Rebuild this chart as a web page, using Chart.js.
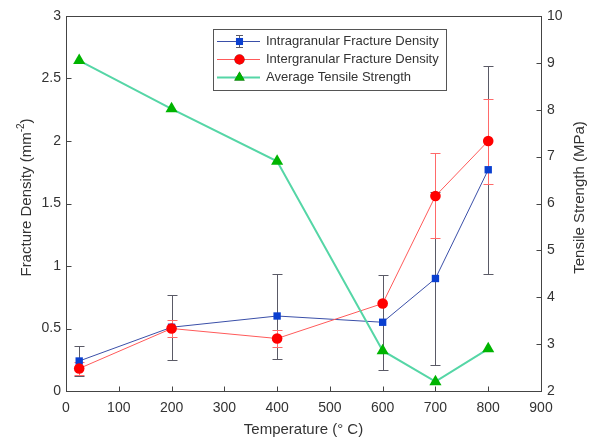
<!DOCTYPE html>
<html lang="en">
  <head>
    <meta charset="utf-8" />
    <title>Fracture density vs temperature</title>
    <style>
      * { margin: 0; padding: 0; }
      body { background: #fff; }
      .chartBox { width: 590px; height: 439px; }
    </style>
  </head>
  <body>
    <div class="chartBox"><canvas id="myChart" width="590" height="439"></canvas></div>

    <script src="https://cdn.jsdelivr.net/npm/chart.js"></script>
    <script>
      const temps = [25, 200, 400, 600, 700, 800];
      const intraDensity = [0.24, 0.51, 0.6, 0.55, 0.9, 1.77];
      const intraErr = [0.12, 0.26, 0.34, 0.38, 0.69, 0.83];
      const interDensity = [0.18, 0.5, 0.42, 0.7, 1.56, 2.0];
      const interErr = [0.05, 0.07, 0.07, 0.0, 0.34, 0.34];
      const tensile = [9.05, 8.02, 6.9, 2.86, 2.2, 2.9];
      const xTicks = [0, 100, 200, 300, 400, 500, 600, 700, 800, 900];

      const FONT = "'Liberation Sans', Arial, sans-serif";
      const TXT = "#333";

      const toPoints = (vals) => vals.map((v, i) => ({ x: temps[i], y: v }));

      // error bars + box + inward ticks + axis titles + legend
      const matlabLook = {
        id: "matlabLook",
        beforeDatasetsDraw(chart) {
          const { ctx, scales } = chart;
          const x = scales.x, y = scales.y;
          const bars = [
            { vals: intraDensity, err: intraErr, color: "#5a5a66" },
            { vals: interDensity, err: interErr, color: "#ff6a6a" },
          ];
          ctx.save();
          ctx.lineWidth = 1;
          bars.forEach((b) => {
            ctx.strokeStyle = b.color;
            b.vals.forEach((v, i) => {
              if (!b.err[i]) return;
              const px = Math.round(x.getPixelForValue(temps[i])) + 0.5;
              const top = Math.round(y.getPixelForValue(v + b.err[i])) + 0.5;
              const bot = Math.round(y.getPixelForValue(v - b.err[i])) + 0.5;
              ctx.beginPath();
              ctx.moveTo(px, top); ctx.lineTo(px, bot);
              ctx.moveTo(px - 5, top); ctx.lineTo(px + 5, top);
              ctx.moveTo(px - 5, bot); ctx.lineTo(px + 5, bot);
              ctx.stroke();
            });
          });
          ctx.restore();
        },
        afterDraw(chart) {
          const { ctx, chartArea: a, scales } = chart;
          ctx.save();
          ctx.strokeStyle = "#444";
          ctx.lineWidth = 1;
          const L = Math.round(a.left) + 0.5, R = Math.round(a.right) + 0.5;
          const T = Math.round(a.top) + 0.5, B = Math.round(a.bottom) + 0.5;
          ctx.strokeRect(L, T, R - L, B - T);
          ctx.beginPath();
          scales.x.ticks.forEach((t) => {
            const px = Math.round(scales.x.getPixelForValue(t.value)) + 0.5;
            ctx.moveTo(px, B); ctx.lineTo(px, B - 5);
          });
          scales.y.ticks.forEach((t) => {
            const py = Math.round(scales.y.getPixelForValue(t.value)) + 0.5;
            ctx.moveTo(L, py); ctx.lineTo(L + 5, py);
          });
          scales.y1.ticks.forEach((t) => {
            const py = Math.round(scales.y1.getPixelForValue(t.value)) + 0.5;
            ctx.moveTo(R, py); ctx.lineTo(R - 5, py);
          });
          ctx.stroke();

          // axis titles, both reading bottom to top
          const midY = (a.top + a.bottom) / 2 - 6;
          ctx.fillStyle = TXT;
          ctx.textBaseline = "middle";
          ctx.textAlign = "center";
          ctx.font = "15px " + FONT;
          ctx.translate(580, midY);
          ctx.rotate(-Math.PI / 2);
          ctx.fillText("Tensile Strength (MPa)", 0, 0);
          ctx.setTransform(1, 0, 0, 1, 0, 0);

          const partA = "Fracture Density (mm", sup = "-2", partB = ")";
          ctx.font = "15px " + FONT;
          const wA = ctx.measureText(partA).width, wB = ctx.measureText(partB).width;
          ctx.font = "10px " + FONT;
          const wS = ctx.measureText(sup).width;
          const total = wA + wS + wB;
          ctx.translate(27, midY);
          ctx.rotate(-Math.PI / 2);
          ctx.textAlign = "left";
          ctx.font = "15px " + FONT;
          ctx.fillText(partA, -total / 2, 0);
          ctx.font = "10px " + FONT;
          ctx.fillText(sup, -total / 2 + wA, -6);
          ctx.font = "15px " + FONT;
          ctx.fillText(partB, -total / 2 + wA + wS, 0);
          ctx.setTransform(1, 0, 0, 1, 0, 0);

          // legend
          const bx = 213.5, by = 29.5, bw = 233, bh = 61;
          ctx.fillStyle = "#fff";
          ctx.fillRect(bx, by, bw, bh);
          ctx.strokeStyle = "#555";
          ctx.lineWidth = 1;
          ctx.strokeRect(bx, by, bw, bh);
          const ds = chart.data.datasets;
          const rows = [41, 59, 77];
          const legendRadius = [5, 5, 6];
          ctx.font = "13px " + FONT;
          ctx.textAlign = "left";
          ds.forEach((d, i) => {
            const ry = rows[i] + 0.5;
            ctx.strokeStyle = d.borderColor;
            ctx.lineWidth = d.borderWidth;
            ctx.beginPath();
            ctx.moveTo(217, ry); ctx.lineTo(260, ry);
            ctx.stroke();
            if (i === 0) {
              ctx.strokeStyle = "#5a5a66";
              ctx.lineWidth = 1;
              ctx.beginPath();
              ctx.moveTo(239.5, ry - 6); ctx.lineTo(239.5, ry + 6);
              ctx.moveTo(236, ry - 6); ctx.lineTo(243, ry - 6);
              ctx.moveTo(236, ry + 6); ctx.lineTo(243, ry + 6);
              ctx.stroke();
            }
            Chart.helpers.drawPoint(ctx, {
              pointStyle: d.pointStyle,
              radius: legendRadius[i],
              borderWidth: 0,
            }, 239.5, ry);
            ctx.fillStyle = d.pointBackgroundColor;
            ctx.fill();
            ctx.fillStyle = TXT;
            ctx.fillText(d.label, 266, ry);
          });
          ctx.restore();
        },
      };

      const data = {
        datasets: [
          {
            label: "Intragranular Fracture Density",
            data: toPoints(intraDensity),
            yAxisID: "y",
            borderColor: "#3a4fa8",
            borderWidth: 1,
            pointStyle: "rect",
            pointRadius: 5.2,
            pointBackgroundColor: "#0a3fd0",
            pointBorderWidth: 0,
            order: 3,
          },
          {
            label: "Intergranular Fracture Density",
            data: toPoints(interDensity),
            yAxisID: "y",
            borderColor: "#ff5a5a",
            borderWidth: 1,
            pointStyle: "circle",
            pointRadius: 5.3,
            pointBackgroundColor: "#ff0000",
            pointBorderWidth: 0,
            order: 2,
          },
          {
            label: "Average Tensile Strength",
            data: toPoints(tensile),
            yAxisID: "y1",
            borderColor: "#55d6a6",
            borderWidth: 2,
            pointStyle: "triangle",
            pointRadius: 7,
            pointBackgroundColor: "#00b400",
            pointBorderWidth: 0,
            order: 1,
          },
        ],
      };

      const tickFont = { family: FONT, size: 14 };
      const noGrid = { display: false, drawTicks: false };

      const config = {
        type: "line",
        data: data,
        plugins: [matlabLook],
        options: {
          responsive: false,
          animation: false,
          layout: { padding: { top: 16, left: 0, right: 0, bottom: 0 } },
          plugins: { legend: { display: false }, tooltip: { enabled: false } },
          elements: { line: { tension: 0 } },
          scales: {
            x: {
              type: "linear",
              min: 0,
              max: 900,
              afterBuildTicks: (s) => { s.ticks = xTicks.map((v) => ({ value: v })); },
              grid: noGrid,
              border: { display: false },
              ticks: { color: TXT, font: tickFont, padding: 9 },
              title: {
                display: true,
                text: "Temperature (\u00b0 C)",
                color: TXT,
                font: { family: FONT, size: 15 },
                padding: { top: 0, bottom: 0 },
              },
              afterFit: (s) => { s.height = 48; },
            },
            y: {
              position: "left",
              min: 0,
              max: 3,
              ticks: {
                stepSize: 0.5,
                color: TXT,
                font: tickFont,
                padding: 5,
                callback: (v) => String(v),
              },
              grid: noGrid,
              border: { display: false },
              afterFit: (s) => { s.width = 66; },
            },
            y1: {
              position: "right",
              min: 2,
              max: 10,
              ticks: { stepSize: 1, color: TXT, font: tickFont, padding: 6 },
              grid: noGrid,
              border: { display: false },
              afterFit: (s) => { s.width = 49; },
            },
          },
        },
      };

      const myChart = new Chart(document.getElementById("myChart"), config);
    </script>
  </body>
</html>
